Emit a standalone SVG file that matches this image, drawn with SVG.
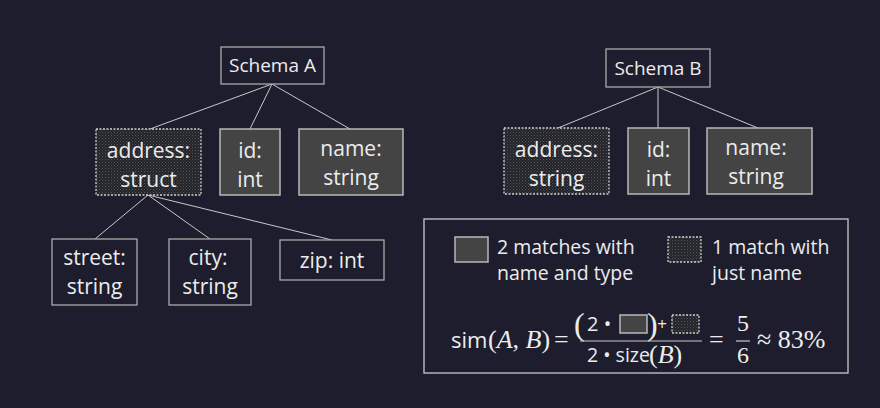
<svg xmlns="http://www.w3.org/2000/svg" width="880" height="408" viewBox="0 0 880 408">
<defs>
<pattern id="dots" width="3" height="3" patternUnits="userSpaceOnUse">
<rect width="3" height="3" fill="#24242b"/>
<rect x="0" y="0" width="1" height="1" fill="#55555b"/>
<rect x="1.5" y="1.5" width="1" height="1" fill="#44444a"/>
</pattern>
<style>
.bg{fill:#1e1d2d}
.plain{fill:#1e1d2d;stroke:#a8a8a8;stroke-width:1.3}
.solid{fill:#444444;stroke:#b8b8b8;stroke-width:1.5}
.dot{fill:url(#dots);stroke:#d0d0d0;stroke-width:1.3;stroke-dasharray:2 1.5}
.t{font-family:"Open Sans","Noto Sans",sans-serif;fill:#ececec;text-anchor:middle}
.n{font-size:21px}
.h{font-size:19px}
.l{font-size:19.5px;text-anchor:start}
.m{font-family:"Liberation Serif","DejaVu Serif",serif;fill:#ececec}
.e{stroke:#c8c8c8;stroke-width:1;fill:none}
</style>
</defs>
<rect class="bg" x="0" y="0" width="880" height="408"/>
<g id="connectors">
<line class="e" x1="272" y1="84" x2="150" y2="129"/>
<line class="e" x1="272" y1="84" x2="250" y2="129"/>
<line class="e" x1="272" y1="84" x2="350" y2="129"/>
<line class="e" x1="658" y1="87" x2="558" y2="128"/>
<line class="e" x1="658" y1="87" x2="658" y2="128"/>
<line class="e" x1="658" y1="87" x2="758" y2="128"/>
<line class="e" x1="148" y1="195" x2="95" y2="239"/>
<line class="e" x1="148" y1="195" x2="210" y2="239"/>
<line class="e" x1="148" y1="195" x2="332" y2="240"/>
</g>
<g id="schemaA">
<rect class="plain" x="221" y="47" width="103" height="37"/>
<text class="t h" x="272.5" y="72">Schema A</text>
</g>
<g id="a_address">
<rect class="dot" x="96" y="129" width="105" height="66"/>
<text class="t n" x="148.5" y="158">address:</text>
<text class="t n" x="148.5" y="187">struct</text>
</g>
<g id="a_id">
<rect class="solid" x="220" y="129" width="60" height="66"/>
<text class="t n" x="250" y="158">id:</text>
<text class="t n" x="250" y="187">int</text>
</g>
<g id="a_name">
<rect class="solid" x="299" y="129" width="104" height="66"/>
<text class="t n" x="351" y="156">name:</text>
<text class="t n" x="351" y="185">string</text>
</g>
<g id="a_street">
<rect class="plain" x="52" y="239" width="85" height="66"/>
<text class="t n" x="94.5" y="265">street:</text>
<text class="t n" x="94.5" y="294">string</text>
</g>
<g id="a_city">
<rect class="plain" x="169" y="239" width="82" height="66"/>
<text class="t n" x="208" y="265">city:</text>
<text class="t n" x="210" y="294">string</text>
</g>
<g id="a_zip">
<rect class="plain" x="280" y="240" width="104" height="40"/>
<text class="t n" x="332" y="268">zip: int</text>
</g>
<g id="schemaB">
<rect class="plain" x="606" y="49" width="104" height="38"/>
<text class="t h" x="658" y="75">Schema B</text>
</g>
<g id="b_address">
<rect class="dot" x="504" y="128" width="105" height="66"/>
<text class="t n" x="556.5" y="157">address:</text>
<text class="t n" x="556.5" y="186">string</text>
</g>
<g id="b_id">
<rect class="solid" x="628" y="128" width="61" height="66"/>
<text class="t n" x="658.5" y="157">id:</text>
<text class="t n" x="658.5" y="186">int</text>
</g>
<g id="b_name">
<rect class="solid" x="707" y="128" width="105" height="66"/>
<text class="t n" x="756" y="155">name:</text>
<text class="t n" x="756" y="184">string</text>
</g>
<g id="legend">
<rect x="424" y="219" width="424" height="154" fill="none" stroke="#c8c8c8" stroke-width="1.3"/>
<rect class="solid" x="455" y="237" width="33" height="25"/>
<text class="t l" x="497" y="254">2 matches with</text>
<text class="t l" x="497" y="280">name and type</text>
<rect class="dot" x="668" y="237" width="33" height="25"/>
<text class="t l" x="712" y="254">1 match with</text>
<text class="t l" x="712" y="280">just name</text>
<text class="t l" x="451" y="348" style="font-size:22px">sim</text>
<text class="m" x="488" y="348" font-size="26"><tspan>(</tspan><tspan font-style="italic">A</tspan><tspan>, </tspan><tspan font-style="italic">B</tspan><tspan>)</tspan></text>
<text class="m" x="554" y="348" font-size="26">=</text>
<text class="m" x="574" y="335" font-size="32">(</text>
<text class="t l" x="587" y="331" style="font-size:20px">2 •</text>
<rect class="solid" x="620" y="315" width="27" height="18"/>
<text class="m" x="647" y="335" font-size="32">)</text>
<text class="t" x="662" y="330" style="font-size:17px">+</text>
<rect class="dot" x="672" y="315" width="27" height="18"/>
<line x1="580" y1="341" x2="702" y2="341" stroke="#c8c8c8" stroke-width="1.2"/>
<text class="t l" x="587" y="362">2 • size</text>
<text class="m" x="649" y="363" font-size="26"><tspan>(</tspan><tspan font-style="italic">B</tspan><tspan>)</tspan></text>
<text class="m" x="709" y="348" font-size="26">=</text>
<text class="m" x="743" y="331" font-size="24" text-anchor="middle">5</text>
<line x1="736" y1="341" x2="750" y2="341" stroke="#c8c8c8" stroke-width="1.2"/>
<text class="m" x="743" y="363" font-size="24" text-anchor="middle">6</text>
<text class="m" x="757" y="348" font-size="26">≈ 83%</text>
</g>
</svg>
